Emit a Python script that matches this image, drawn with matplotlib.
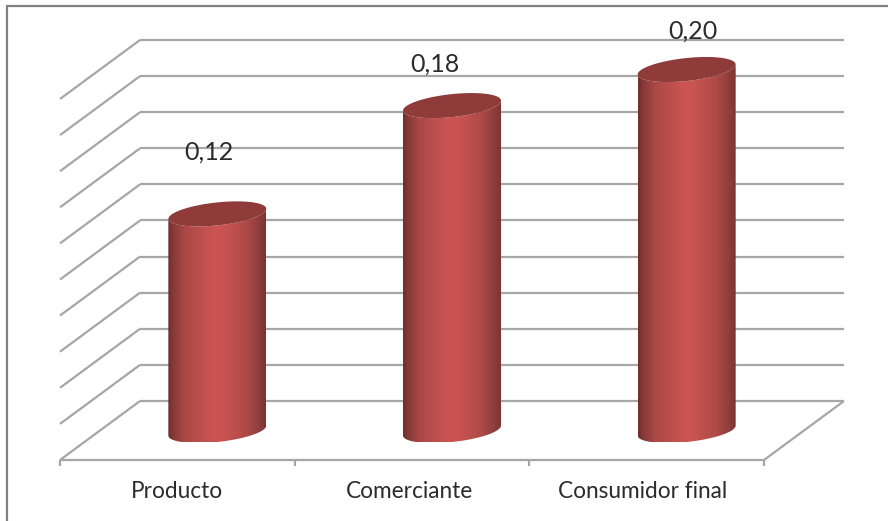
import numpy as np
import matplotlib
matplotlib.use("Agg")
import matplotlib.pyplot as plt
from matplotlib.colors import LinearSegmentedColormap
from matplotlib.patches import Polygon

categories = ["Producto", "Comerciante", "Consumidor final"]
values = [0.12, 0.18, 0.20]
grid_values = [0.00, 0.02, 0.04, 0.06, 0.08, 0.10, 0.12, 0.14, 0.16, 0.18, 0.20]

WIDTH, HEIGHT = 888, 521
LEFT, RIGHT, FLOOR = 60, 764, 460
UNIT = 361 / 0.20  # pixels per unit of value
YMAX = 0.25
DEPTH_X, DEPTH_Y = 80, 59
BAR_HALF = 49
GRID = "#a6a6a6"
TEXT = "#2b2b2b"

plt.rcParams["font.family"] = ["Lato", "DejaVu Sans"]

fig = plt.figure(figsize=(WIDTH / 100, HEIGHT / 100), dpi=100, facecolor="white")
ax = fig.add_axes([LEFT / WIDTH, 1 - FLOOR / HEIGHT, (RIGHT - LEFT) / WIDTH, YMAX * UNIT / HEIGHT])
ax.axis("off")

# size of one pixel in data units, used for the oblique projection
px_x = 3 / (RIGHT - LEFT)
px_y = 1 / UNIT
off_x = DEPTH_X * px_x
off_y = DEPTH_Y * px_y

shade = LinearSegmentedColormap.from_list(
    "cylinder",
    [(0.0, "#6f2e2d"), (0.05, "#853a38"), (0.17, "#aa4846"), (0.45, "#c95451"),
     (0.55, "#cb5552"), (0.8, "#ae4a47"), (0.93, "#8f3e3c"), (1.0, "#7b3433")],
)


def ellipse(cx, cy, t):
    xs = cx + BAR_HALF * px_x * np.cos(t)
    ys = cy + (5 * np.cos(t) + 11.5 * np.sin(t)) * px_y
    return xs, ys


def draw_wall():
    style = dict(color=GRID, lw=1.6, solid_capstyle="butt", clip_on=False, zorder=1)
    for g in grid_values:
        ax.plot([-0.5, -0.5 + off_x], [g, g + off_y], **style)
        ax.plot([-0.5 + off_x, 2.5 + off_x], [g + off_y, g + off_y], **style)
    # floor edges and category ticks
    ax.plot([-0.5, 2.5], [0, 0], **style)
    ax.plot([2.5, 2.5 + off_x], [0, off_y], **style)
    for x in np.arange(-0.5, 3.0):
        ax.plot([x, x], [0, -6 * px_y], **style)


def draw_cylinder(x, value):
    cx = x + off_x / 2
    base = off_y / 2
    top = base + value
    t = np.linspace(np.pi, 2 * np.pi, 60)
    bx, by = ellipse(cx, base, t)
    tx, ty = ellipse(cx, top, t[::-1])
    body = Polygon(np.column_stack([np.r_[bx, tx], np.r_[by, ty]]), closed=True,
                   transform=ax.transData, facecolor="none", edgecolor="none")
    ax.add_patch(body)
    extent = (cx - BAR_HALF * px_x, cx + BAR_HALF * px_x, base - 12 * px_y, top + 12 * px_y)
    img = ax.imshow(np.linspace(0, 1, 200)[None, :], cmap=shade, extent=extent,
                    aspect="auto", origin="lower", zorder=3, interpolation="bilinear")
    img.set_clip_path(body)
    xs, ys = ellipse(cx, top, np.linspace(0, 2 * np.pi, 120))
    ax.fill(xs, ys, color="#8e3b39", lw=0, zorder=4)


draw_wall()
label_shift = [(-8, 62), (-17, 42), (6, 38)]
name_shift = [0, -3, -4]
for i, value in enumerate(values):
    draw_cylinder(i, value)
    ax.annotate(f"{value:.2f}".replace(".", ","),
                (i + off_x / 2, off_y / 2 + value),
                xytext=label_shift[i], textcoords="offset pixels",
                ha="center", va="center", fontsize=18, color=TEXT, zorder=5,
                annotation_clip=False)
    ax.annotate(categories[i], (i, 0), xytext=(name_shift[i], -31), textcoords="offset pixels",
                ha="center", va="center", fontsize=16.3, color=TEXT, annotation_clip=False)
ax.set_xlim(-0.5, 2.5)
ax.set_ylim(0, YMAX)

# outer chart frame: only the left and top edges fall inside the canvas
frame = dict(color="#808080", lw=1.6, solid_capstyle="butt")
fig.add_artist(plt.Line2D([7 / WIDTH, 7 / WIDTH], [0, 1 - 6 / HEIGHT], **frame))
fig.add_artist(plt.Line2D([6 / WIDTH, 1], [1 - 6 / HEIGHT, 1 - 6 / HEIGHT], **frame))

fig.savefig("out.png", dpi=100, facecolor="white")
